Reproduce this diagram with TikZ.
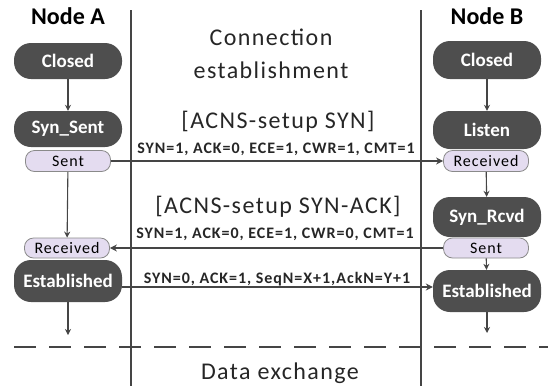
\documentclass[tikz,border=0pt]{standalone}
\usepackage{fontspec}
\setmainfont{Carlito}
\newfontfamily\spacedfont[LetterSpace=6]{Carlito}
\usetikzlibrary{arrows.meta}
\definecolor{stategray}{HTML}{4E4E4E}
\definecolor{pillfill}{HTML}{E4DCF0}
\definecolor{pilldraw}{HTML}{8A8A8A}
\definecolor{linegray}{HTML}{454545}
\begin{document}
\begin{tikzpicture}[x=1pt,y=-1pt,
  state/.style={fill=stategray, text=white, rounded corners=17pt,
    minimum width=108pt, minimum height=36pt, inner sep=0pt,
    font=\bfseries\fontsize{19}{19}\selectfont},
  pill/.style={fill=pillfill, draw=pilldraw, line width=0.8pt, rounded corners=9pt,
    minimum width=85pt, minimum height=21pt, inner sep=0pt,
    font=\spacedfont\fontsize{16}{16}\selectfont},
  title/.style={font=\bfseries\fontsize{24}{24}\selectfont, text=black},
  big/.style={font=\spacedfont\fontsize{24}{24}\selectfont, text=black!85},
  flag/.style={font=\spacedfont\bfseries\fontsize{16}{16}\selectfont, text=black!85, inner sep=0pt},
  flow/.style={draw=linegray, line width=1.1pt, -{Stealth[length=6pt,width=6pt]}},
  msg/.style={draw=linegray, line width=1.1pt, -{Stealth[length=7pt,width=7pt]}},
  lifeline/.style={draw=linegray, line width=2pt},
  sep/.style={draw=linegray, line width=2pt, dash pattern=on 22pt off 13pt}
]
\useasboundingbox (0,0) rectangle (548,389);

% lifelines
\coordinate (lA1) at (131,10);
\coordinate (lA2) at (131,386);
\coordinate (lB1) at (421,10);
\coordinate (lB2) at (421,386);
\draw[lifeline] (lA1) -- (lA2);
\draw[lifeline] (lB1) -- (lB2);

% separator
\coordinate (s1) at (14,347);
\coordinate (s2) at (548,347);
\draw[sep] (s1) -- (s2);

% titles
\node[title] (tA) at (68,16) {Node A};
\node[title] (tB) at (487,16) {Node B};
\node[big] (c1) at (271,37) {Connection};
\node[big] (c2) at (271,70) {establishment};
\node[big] (d1) at (280,373) {Data exchange};

% Node A
\node[state] (closedA) at (68,61) {Closed};
\node[state] (synsentA) at (68,129) {Syn\_Sent};
\node[pill] (sentA) at (68,161) {Sent};
\node[state, minimum height=42pt] (estA) at (68,281) {Established};
\node[pill, minimum height=20pt] (recvA) at (67,248) {Received};
\coordinate (endA) at (68,335);

% Node B
\node[state, minimum height=38pt] (closedB) at (487,60) {Closed};
\node[state, minimum height=38pt] (listenB) at (487,130) {Listen};
\node[pill] (recvB) at (486,161) {Received};
\node[state, minimum height=40pt] (synrcvdB) at (487,217) {Syn\_Rcvd};
\node[state, minimum height=42pt] (estB) at (487,291) {Established};
\node[pill, minimum height=20pt] (sentB) at (486,248) {Sent};
\coordinate (endB) at (487,333);

% flows
\draw[flow] (closedA) -- (synsentA);
\draw[flow] (sentA) -- (recvA);
\draw[flow] (estA) -- (endA);
\draw[flow] (closedB) -- (listenB);
\draw[flow] (recvB) -- (synrcvdB);
\draw[flow] (sentB) -- (estB);
\draw[flow] (estB) -- (endB);

% messages
\draw[msg] (sentA.east) -- (recvB.west);
\draw[msg] (sentB.west) -- (recvA.east);
\draw[msg] (estA.east |- 0,287) -- (estB.west |- 0,287);

% message labels
\node[big] (m1) at (278,122) {[ACNS-setup SYN]};
\node[flag] (f1) at (276,149) {SYN=1, ACK=0, ECE=1, CWR=1, CMT=1};
\node[big] (m2) at (278,207) {[ACNS-setup SYN-ACK]};
\node[flag] (f2) at (275,234) {SYN=1, ACK=0, ECE=1, CWR=0, CMT=1};
\node[flag] (f3) at (277,279) {SYN=0, ACK=1, SeqN=X+1,AckN=Y+1};
\end{tikzpicture}
\end{document}
